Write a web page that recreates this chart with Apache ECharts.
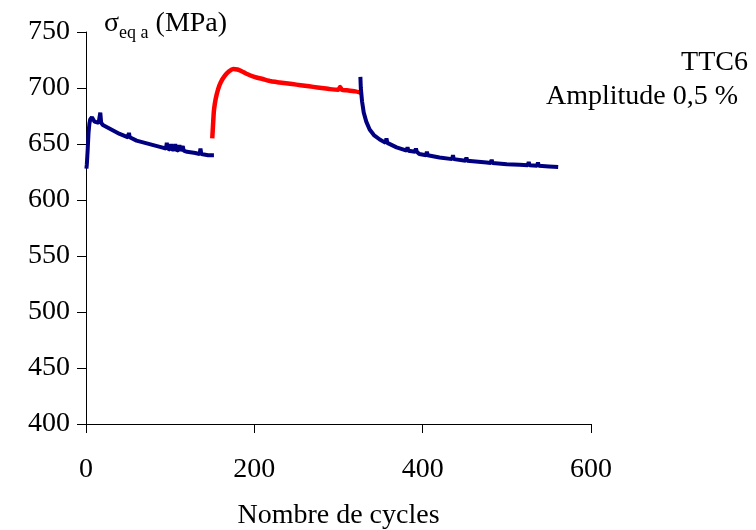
<!DOCTYPE html>
<html>
<head>
<meta charset="utf-8">
<script src="https://cdn.jsdelivr.net/npm/echarts@6/dist/echarts.min.js"></script>
<style>
html,body{margin:0;padding:0;background:#fff;}
#chart{width:756px;height:530px;}
</style>
</head>
<body>
<div id="chart"></div>
<script>
// Series 1 (blue): first phase
var cycles1 = [0.5,1,2,3,4,5,6,7,8,10,12,15,16,17,18,20,25,30,40,50,51,52,60,70,80,90,95,96,97,100,101,102,105,106,107,110,111,112,114,115,116,120,130,135,136,137,145,152];
var stress1 = [628,632,645,660,668,672,671,674,673,670,669,669,670,678,669,667,665,663,659,656,660,656,653,651,649,647,646,651,646,645,650,645,645,650,645,644,649,644,644,648,644,643,642,641,646,641,640,640];
// Series 2 (red): second phase
var cycles2 = [150,151,152,154,157,160,165,170,175,180,185,190,200,210,220,230,240,250,260,270,280,290,300,302,304,310,320,326];
var stress2 = [655,668,680,690,699,705,711,715,717,716.5,715,713,710,708,706,705,704,703,702,701,700,699,698.5,701,698.5,698,697,696];
// Series 3 (blue): third phase
var cycles3 = [326,326.5,328,330,333,337,342,349,356,357,358,369,381,382,383,391,392,393,396,404,405,406,420,435,436,437,451,452,453,476,481,482,483,500,515,525,526,527,536,537,538,550,561];
var stress3 = [710,700,688,678,670,663,658,654,651,655,651,647,644,647,644,643,646,643,641,640,643,640,638,636.5,640,636.5,635,638,635,633.5,633,636,633,632,631.5,631,634,631,630.5,633.5,630.5,630,629.5];
// Axis ticks
var xTicks = [0,200,400,600];
var yTicks = [400,450,500,550,600,650,700,750];

function pairs(xs, ys){ return xs.map(function(x,i){return [x, ys[i]];}); }

var FONT = '"Liberation Serif","Times New Roman",serif';
var chart = echarts.init(document.getElementById('chart'));
chart.setOption({
  animation:false,
  backgroundColor:'#ffffff',
  grid:{left:86,right:165,top:32,bottom:106,containLabel:false,outerBoundsMode:'none'},
  xAxis:{
    type:'value', min:xTicks[0], max:xTicks[xTicks.length-1], interval:200,
    axisLine:{onZero:false,lineStyle:{color:'#000',width:1}},
    axisTick:{show:true,inside:false,length:9,lineStyle:{color:'#000'}},
    splitLine:{show:false},
    axisLabel:{color:'#000',fontFamily:FONT,fontSize:28,margin:32},
    name:'Nombre de cycles', nameLocation:'middle', nameGap:78,
    nameTextStyle:{color:'#000',fontFamily:FONT,fontSize:28}
  },
  yAxis:{
    type:'value', min:yTicks[0], max:yTicks[yTicks.length-1], interval:50,
    axisLine:{show:true,lineStyle:{color:'#000',width:1}},
    axisTick:{show:true,inside:false,length:9,lineStyle:{color:'#000'}},
    splitLine:{show:false},
    axisLabel:{color:'#000',fontFamily:FONT,fontSize:28,margin:16}
  },
  graphic:[
    {type:'text',left:104,top:10,style:{
      text:'{s|σ}{sub|eq a}{s| (MPa)}',
      rich:{
        s:{fontFamily:FONT,fontSize:28,fill:'#000',verticalAlign:'bottom'},
        sub:{fontFamily:FONT,fontSize:18,fill:'#000',verticalAlign:'bottom',padding:[0,0,-4,0]}
      }
    }},
    {type:'text',right:8,top:49,style:{text:'TTC6',fontFamily:FONT,fontSize:28,fill:'#000',textAlign:'right'}},
    {type:'text',right:18,top:83,style:{text:'Amplitude 0,5 %',fontFamily:FONT,fontSize:28,fill:'#000',textAlign:'right'}}
  ],
  series:[
    {type:'line',data:pairs(cycles1,stress1),showSymbol:false,symbol:'none',lineStyle:{color:'#000080',width:4},smooth:false},
    {type:'line',data:pairs(cycles2,stress2),showSymbol:false,symbol:'none',lineStyle:{color:'#ff0000',width:4.5},smooth:0.2},
    {type:'line',data:pairs(cycles3,stress3),showSymbol:false,symbol:'none',lineStyle:{color:'#000080',width:4},smooth:false}
  ]
});
</script>
</body>
</html>
